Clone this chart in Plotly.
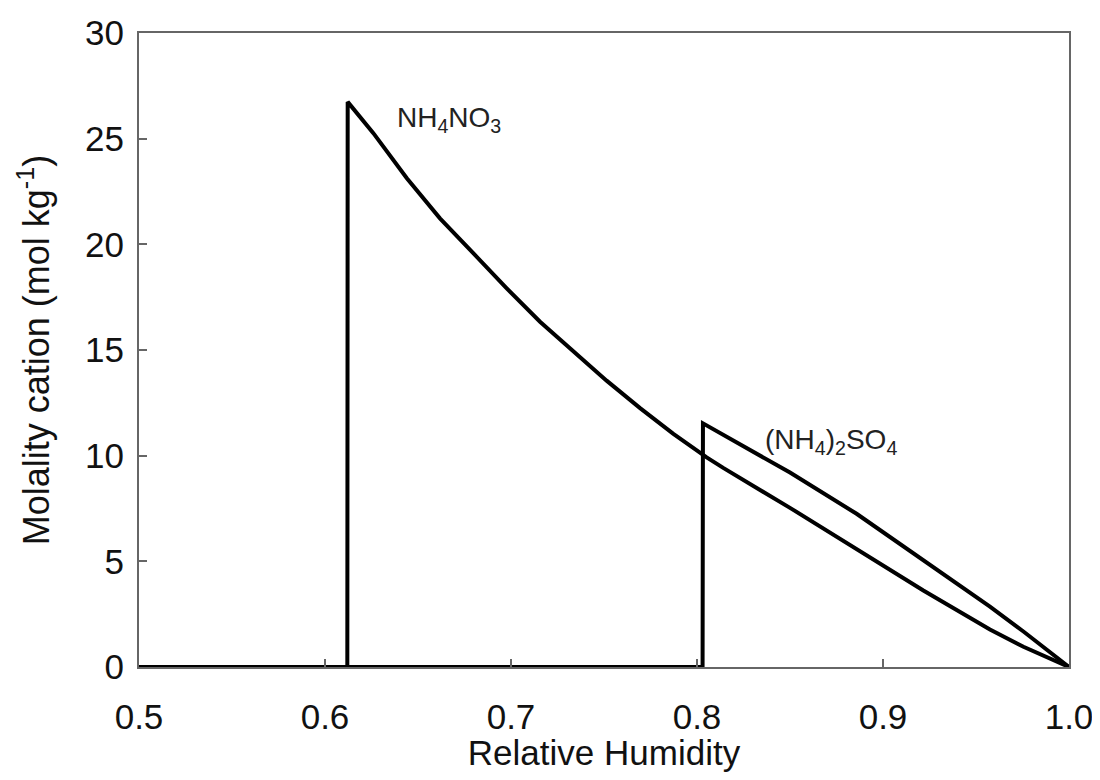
import plotly.graph_objects as go

# NH4NO3: zero below deliquescence RH, jump, then decreasing to 0 at RH = 1
nitrate_rh = [0.5, 0.612, 0.6122, 0.626, 0.644, 0.6618, 0.6797, 0.6977, 0.7156, 0.7335, 0.7514,
              0.7694, 0.7873, 0.8052, 0.8141, 0.85, 0.8858, 0.9217, 0.9575, 0.9755, 1.0]
nitrate_m = [0, 0, 26.74, 25.26, 23.13, 21.23, 19.58, 17.92, 16.34, 14.92, 13.55,
             12.25, 11.03, 9.92, 9.42, 7.53, 5.60, 3.62, 1.77, 0.96, 0]

# (NH4)2SO4
sulfate_rh = [0.5, 0.803, 0.8032, 0.8141, 0.85, 0.8858, 0.9217, 0.9575, 0.9755, 1.0]
sulfate_m = [0, 0, 11.53, 10.98, 9.20, 7.25, 5.08, 2.86, 1.68, 0]

x_ticks = [0.5, 0.6, 0.7, 0.8, 0.9, 1.0]
x_labels = ["0.5", "0.6", "0.7", "0.8", "0.9", "1.0"]

font = "Arial, 'Liberation Sans', sans-serif"

fig = go.Figure()
fig.add_trace(go.Scatter(x=nitrate_rh, y=nitrate_m, mode="lines",
                         line=dict(color="black", width=4)))
fig.add_trace(go.Scatter(x=sulfate_rh, y=sulfate_m, mode="lines",
                         line=dict(color="black", width=4)))

fig.add_annotation(x=0.6375, y=25.9, text="NH<sub>4</sub>NO<sub>3</sub>", showarrow=False,
                   xanchor="left", font=dict(family=font, size=28, color="#222"))
fig.add_annotation(x=0.8355, y=10.65, text="(NH<sub>4</sub>)<sub>2</sub>SO<sub>4</sub>", showarrow=False,
                   xanchor="left", font=dict(family=font, size=28, color="#222"))

axis_common = dict(showgrid=False, zeroline=False, showline=True, linecolor="#666", linewidth=2,
                   mirror=True, ticks="inside", ticklen=8, tickcolor="#666", tickwidth=1.5,
                   tickfont=dict(family=font, size=35, color="#111"))

fig.update_xaxes(range=[0.5, 1.0], tickvals=x_ticks, ticktext=x_labels, ticklabelstandoff=18,
                 ticklabeloverflow="allow",
                 title=dict(text="Relative Humidity", font=dict(family=font, size=35, color="#111"), standoff=18),
                 **axis_common)
fig.update_yaxes(range=[0, 30], dtick=5, ticklabelstandoff=6,
                 title=dict(text="Molality cation (mol kg<sup>-1</sup>)", font=dict(family=font, size=36, color="#111"), standoff=24),
                 **axis_common)

fig.update_layout(width=1084, height=764, showlegend=False, plot_bgcolor="white", paper_bgcolor="white",
                  margin=dict(l=131, r=23, t=25, b=105, autoexpand=False))

fig.write_html("out.html")
